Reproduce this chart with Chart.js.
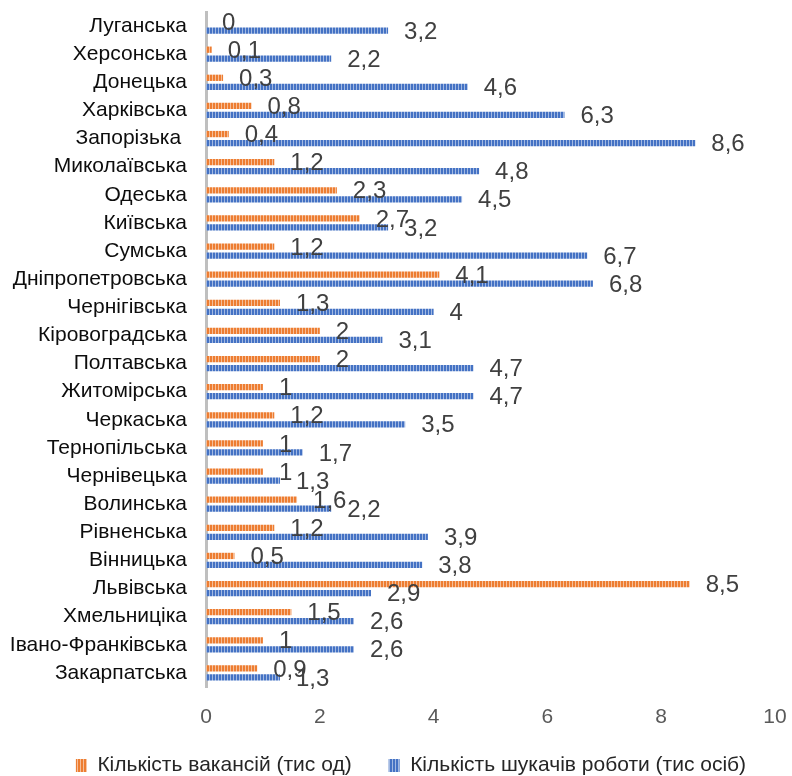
<!DOCTYPE html>
<html>
<head>
<meta charset="utf-8">
<script src="https://cdn.jsdelivr.net/npm/chart.js@4"></script>
<style>
  body { margin: 0; background: #fff; }
  #wrap { width: 792px; height: 776px; }
</style>
</head>
<body>
<div id="wrap"><canvas id="chart" width="792" height="776"></canvas></div>
<script>
const regions = ['Луганська', 'Херсонська', 'Донецька', 'Харківська', 'Запорізька ', 'Миколаївська',
    'Одеська', 'Київська', 'Сумська', 'Дніпропетровська', 'Чернігівська', 'Кіровоградська',
    'Полтавська', 'Житомірська', 'Черкаська', 'Тернопільська', 'Чернівецька', 'Волинська',
    'Рівненська', 'Вінницька', 'Львівська', 'Хмельниціка', 'Івано-Франківська', 'Закарпатська'];

const vacancies = [0, 0.1, 0.3, 0.8, 0.4, 1.2, 2.3, 2.7, 1.2, 4.1, 1.3, 2, 2, 1, 1.2, 1, 1, 1.6, 1.2, 0.5, 8.5, 1.5, 1, 0.9];
const jobSeekers = [3.2, 2.2, 4.6, 6.3, 8.6, 4.8, 4.5, 3.2, 6.7, 6.8, 4, 3.1, 4.7, 4.7, 3.5, 1.7, 1.3, 2.2, 3.9, 3.8, 2.9, 2.6, 2.6, 1.3];

const seriesNames = ['Кількість вакансій (тис од)', 'Кількість шукачів роботи (тис осіб)'];
const xTicks = [0, 2, 4, 6, 8, 10];

const FONT = '"Liberation Sans", Arial, sans-serif';

function stripes(main, light) {
    const c = document.createElement('canvas');
    c.width = 3;
    c.height = 1;
    const g = c.getContext('2d');
    g.fillStyle = main;
    g.fillRect(0, 0, 2, 1);
    g.fillStyle = light;
    g.fillRect(2, 0, 1, 1);
    return g.createPattern(c, 'repeat');
}

const orange = stripes('#ED7D31', '#F6BE98');
const blue = stripes('#4472C4', '#A2B9E2');

// value labels to the right of each bar, with decimal comma
const valueLabels = {
    id: 'valueLabels',
    afterLayout(chart) {
        // let long region names use the space left of the layout padding
        const y = chart.scales.y;
        y.left = 0;
        y.width = y.right;
    },
    afterDatasetsDraw(chart) {
        const ctx = chart.ctx;
        ctx.save();
        ctx.font = '24px ' + FONT;
        ctx.fillStyle = '#404040';
        ctx.textAlign = 'left';
        ctx.textBaseline = 'middle';
        chart.data.datasets.forEach((ds, i) => {
            chart.getDatasetMeta(i).data.forEach((el, j) => {
                const txt = String(ds.data[j]).replace('.', ',');
                ctx.fillText(txt, el.x + 16, el.y + 1.5);
            });
        });
        ctx.restore();
    }
};

new Chart(document.getElementById('chart'), {
    type: 'bar',
    data: {
        labels: regions,
        datasets: [
            { label: seriesNames[0], data: vacancies, backgroundColor: orange },
            { label: seriesNames[1], data: jobSeekers, backgroundColor: blue }
        ]
    },
    options: {
        indexAxis: 'y',
        responsive: false,
        animation: false,
        layout: { padding: { top: 12, right: 17, left: 47, bottom: -10 } },
        datasets: {
            bar: { categoryPercentage: 0.64, barPercentage: 0.7 }
        },
        scales: {
            x: {
                min: 0,
                max: 10,
                afterBuildTicks: s => { s.ticks = xTicks.map(v => ({ value: v })); },
                grid: { display: false, drawTicks: false },
                border: { display: false },
                ticks: { color: '#595959', font: { size: 21, family: FONT }, padding: 18 },
                afterFit: s => {
                    s.height = 66;
                    s.paddingLeft = 0;
                    s.paddingRight = 0;
                }
            },
            y: {
                grid: { display: false, drawTicks: false },
                border: { display: true, color: '#BFBFBF', width: 3 },
                ticks: { color: '#0d0d0d', font: { size: 21, family: FONT }, padding: 19, autoSkip: false },
                afterFit: s => {
                    s.width = 159;
                    s.paddingTop = 0;
                    s.paddingBottom = 0;
                }
            }
        },
        plugins: {
            legend: {
                position: 'bottom',
                labels: {
                    color: '#262626',
                    font: { size: 21, family: FONT },
                    boxWidth: 11,
                    boxHeight: 13,
                    padding: 2,
                    generateLabels: chart => {
                        const items = Chart.defaults.plugins.legend.labels.generateLabels(chart);
                        items[0].text = items[0].text + '      ';
                        return items;
                    }
                }
            },
            tooltip: { enabled: false }
        }
    },
    plugins: [valueLabels]
});
</script>
</body>
</html>
